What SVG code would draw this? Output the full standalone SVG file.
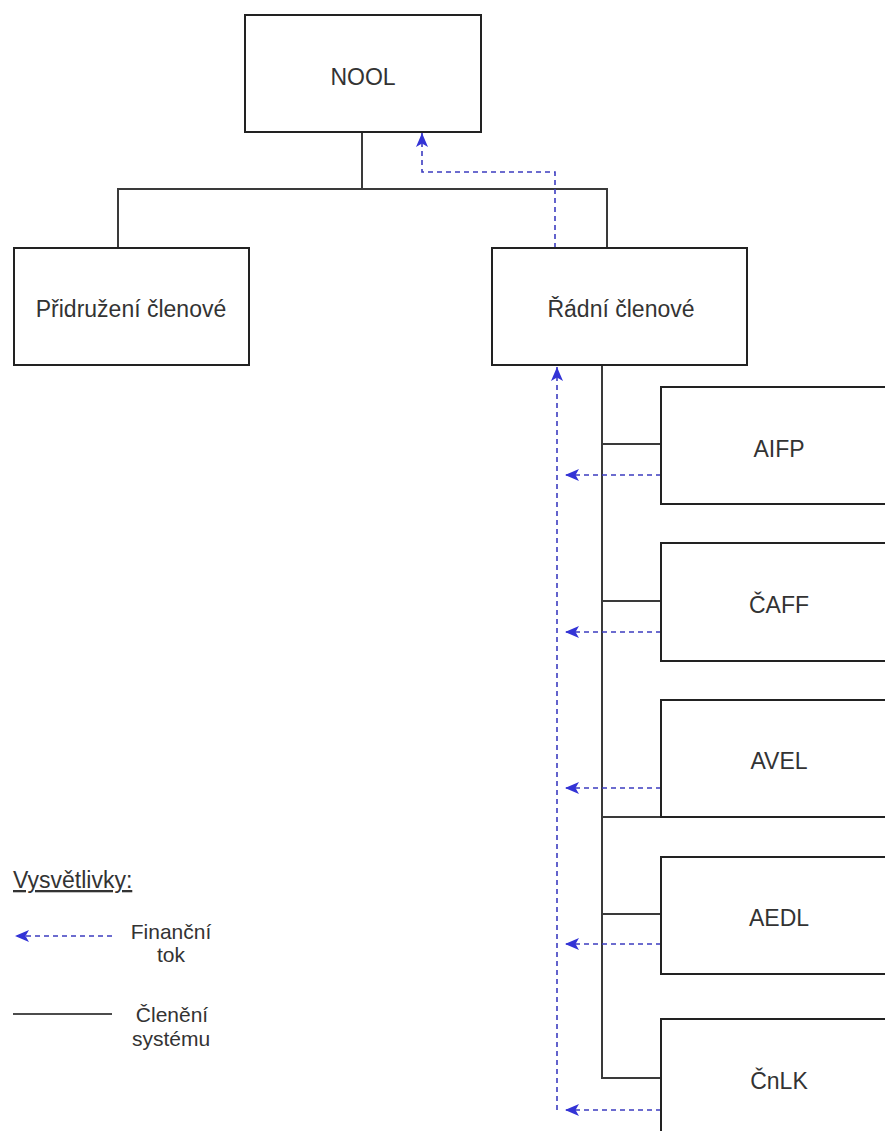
<svg xmlns="http://www.w3.org/2000/svg" width="885" height="1131" viewBox="0 0 885 1131">
  <style>
    .box { fill: #ffffff; stroke: #222222; stroke-width: 2; }
    .lbl { font-family: "Liberation Sans", Arial, sans-serif; font-size: 23px; fill: #333333; text-anchor: middle; }
    .leg { font-family: "Liberation Sans", Arial, sans-serif; font-size: 23px; fill: #333333; }
    .legc { font-family: "Liberation Sans", Arial, sans-serif; font-size: 21px; fill: #333333; text-anchor: middle; }
    .solid { fill: none; stroke: #3a3a3a; stroke-width: 2; }
    .flow { fill: none; stroke: #3c3cc0; stroke-width: 1.6; stroke-dasharray: 5 4; }
  </style>
  <defs>
    <marker id="arr" markerUnits="userSpaceOnUse" markerWidth="15" markerHeight="13" refX="14" refY="6" orient="auto">
      <path d="M0,0 L14,6 L0,12 L3.5,6 Z" fill="#3333d6"/>
    </marker>
  </defs>
  <rect width="885" height="1131" fill="#ffffff"/>

  <g id="connectors">
    <!-- hierarchy -->
    <path class="solid" d="M362,132 V189"/>
    <path class="solid" d="M118,248 V189 H607 V248"/>
    <path class="solid" d="M602,365 V1078 H661"/>
    <path class="solid" d="M602,444 H661"/>
    <path class="solid" d="M602,601 H661"/>
    <path class="solid" d="M602,817 H661"/>
    <path class="solid" d="M602,914 H661"/>
    <!-- financial flows -->
    <path class="flow" d="M555,248 V172 H422 V133" marker-end="url(#arr)"/>
    <path class="flow" d="M557,1110 V367" marker-end="url(#arr)"/>
    <path class="flow" d="M661,475 H565" marker-end="url(#arr)"/>
    <path class="flow" d="M661,632 H565" marker-end="url(#arr)"/>
    <path class="flow" d="M661,788 H565" marker-end="url(#arr)"/>
    <path class="flow" d="M661,944 H565" marker-end="url(#arr)"/>
    <path class="flow" d="M661,1110 H565" marker-end="url(#arr)"/>
  </g>

  <g id="nool">
    <rect class="box" x="245" y="15" width="236" height="117"/>
    <text class="lbl" x="363" y="85">NOOL</text>
  </g>
  <g id="pridruzeni">
    <rect class="box" x="14" y="248" width="235" height="117"/>
    <text class="lbl" x="131" y="317">Přidružení členové</text>
  </g>
  <g id="radni">
    <rect class="box" x="492" y="248" width="255" height="117"/>
    <text class="lbl" x="621" y="317">Řádní členové</text>
  </g>
  <g id="aifp">
    <rect class="box" x="661" y="387" width="236" height="117"/>
    <text class="lbl" x="779" y="457">AIFP</text>
  </g>
  <g id="caff">
    <rect class="box" x="661" y="543" width="236" height="118"/>
    <text class="lbl" x="779" y="613">ČAFF</text>
  </g>
  <g id="avel">
    <rect class="box" x="661" y="700" width="236" height="117"/>
    <text class="lbl" x="779" y="769">AVEL</text>
  </g>
  <g id="aedl">
    <rect class="box" x="661" y="857" width="236" height="117"/>
    <text class="lbl" x="779" y="926">AEDL</text>
  </g>
  <g id="cnlk">
    <rect class="box" x="661" y="1019" width="236" height="117"/>
    <text class="lbl" x="779" y="1089">ČnLK</text>
  </g>

  <g id="legend">
    <text class="leg" x="13" y="888" text-decoration="underline">Vysvětlivky:</text>
    <path class="flow" d="M112,936 H15" marker-end="url(#arr)"/>
    <text class="legc" x="171" y="939">Finanční</text>
    <text class="legc" x="171" y="962">tok</text>
    <path d="M13,1014 H112" stroke="#111111" stroke-width="1.6" fill="none"/>
    <text class="legc" x="172" y="1022">Členění</text>
    <text class="legc" x="171" y="1046">systému</text>
  </g>
</svg>
